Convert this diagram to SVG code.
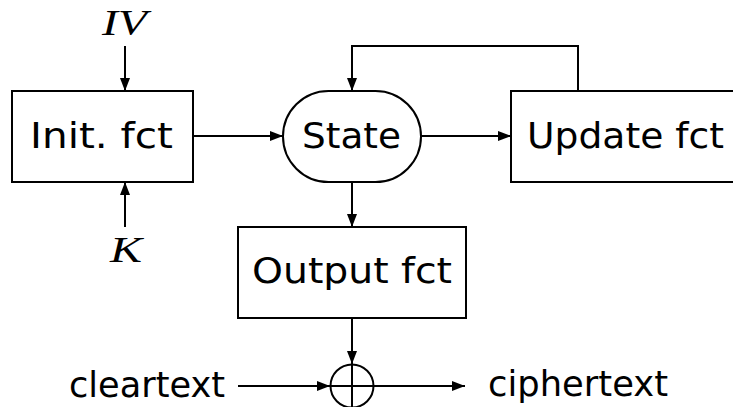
<svg xmlns="http://www.w3.org/2000/svg" width="733" height="407" viewBox="0 0 733 407">
  <defs>
    <marker id="arrow" viewBox="0 0 13 10" refX="13" refY="5" markerWidth="13" markerHeight="10" markerUnits="userSpaceOnUse" orient="auto">
      <path d="M0,0 L13,5 L0,10 Z" fill="#000"/>
    </marker>
    <style>
      .box { fill: #fff; stroke: #000; stroke-width: 2; }
      .edge { fill: none; stroke: #000; stroke-width: 2; marker-end: url(#arrow); }
      .line { fill: none; stroke: #000; stroke-width: 2; }
      .lbl { font-family: "DejaVu Sans", "Liberation Sans", sans-serif; font-size: 35px; fill: #000; }
      .math { font-family: "Liberation Serif", serif; font-style: italic; font-size: 36px; fill: #000; }
    </style>
  </defs>
  <rect width="733" height="407" fill="#fff"/>

  <g id="connectors">
    <line class="edge" x1="125" y1="46" x2="125" y2="91"/>
    <line class="edge" x1="125" y1="227" x2="125" y2="182"/>
    <line class="edge" x1="193" y1="136" x2="283" y2="136"/>
    <line class="edge" x1="421" y1="136" x2="511" y2="136"/>
    <polyline class="edge" points="578,91 578,46 352,46 352,91"/>
    <line class="edge" x1="352" y1="182" x2="352" y2="227"/>
    <line class="edge" x1="352" y1="318" x2="352" y2="364"/>
    <line class="edge" x1="238" y1="386" x2="330" y2="386"/>
    <line class="edge" x1="373" y1="386" x2="465" y2="386"/>
  </g>

  <g id="iv">
    <text class="math" x="102" y="35" textLength="45" lengthAdjust="spacingAndGlyphs">IV</text>
  </g>
  <g id="key">
    <text class="math" x="110" y="262" textLength="32" lengthAdjust="spacingAndGlyphs">K</text>
  </g>

  <g id="init">
    <rect class="box" x="12" y="91" width="181" height="91"/>
    <text class="lbl" x="30" y="148" textLength="143" lengthAdjust="spacingAndGlyphs">Init.  fct</text>
  </g>

  <g id="state">
    <rect class="box" x="283" y="91" width="138" height="91" rx="45.5" ry="45.5"/>
    <text class="lbl" x="302" y="148" textLength="99" lengthAdjust="spacingAndGlyphs">State</text>
  </g>

  <g id="update">
    <rect class="box" x="511" y="91" width="240" height="91"/>
    <text class="lbl" x="527" y="148" textLength="197" lengthAdjust="spacingAndGlyphs">Update fct</text>
  </g>

  <g id="output">
    <rect class="box" x="238" y="227" width="228" height="91"/>
    <text class="lbl" x="252" y="283" textLength="200" lengthAdjust="spacingAndGlyphs">Output fct</text>
  </g>

  <g id="xor">
    <circle class="line" cx="352" cy="386" r="21.5"/>
    <line class="line" x1="330.5" y1="386" x2="373.5" y2="386"/>
    <line class="line" x1="352" y1="364.5" x2="352" y2="407.5"/>
  </g>

  <g id="cleartext">
    <text class="lbl" x="69" y="397" textLength="156" lengthAdjust="spacingAndGlyphs">cleartext</text>
  </g>
  <g id="ciphertext">
    <text class="lbl" x="488" y="396" textLength="180" lengthAdjust="spacingAndGlyphs">ciphertext</text>
  </g>
</svg>
